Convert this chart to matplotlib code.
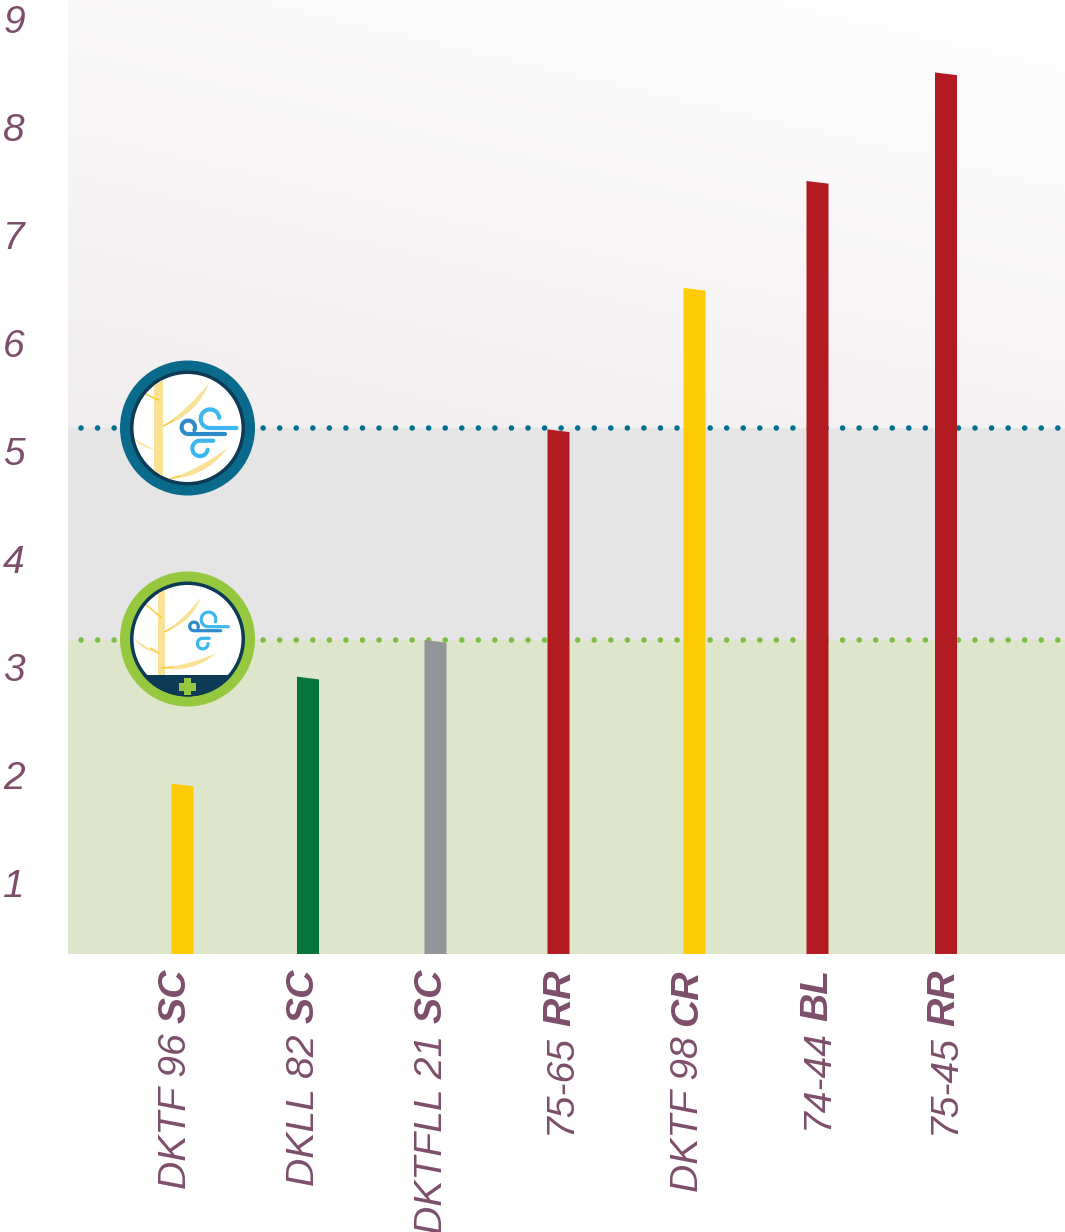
import numpy as np
import matplotlib
matplotlib.use('Agg')
import matplotlib.pyplot as plt
from matplotlib.patches import Circle, Rectangle, PathPatch
from matplotlib.path import Path

plt.rcParams['font.family'] = ['Liberation Sans', 'DejaVu Sans']

names = ['DKTF 96', 'DKLL 82', 'DKTFLL 21', '75-65', 'DKTF 98', '74-44', '75-45']
suffix = ['SC', 'SC', 'SC', 'RR', 'CR', 'BL', 'RR']
values = [1.92, 2.91, 3.25, 5.2, 6.51, 7.5, 8.505]
colors = ['#ffcb05', '#05753c', '#939598', '#b31b23', '#ffcb05', '#b31b23', '#b31b23']
ticks = [1, 2, 3, 4, 5, 6, 7, 8, 9]
upper_limit = 5.21
lower_limit = 3.25

# bars are not evenly spaced in the original, x axis is in pixels
bar_x = [182.5, 308, 435.5, 558.5, 694.5, 817.5, 946]
label_x = [175.5, 303.5, 431.5, 560.5, 687.5, 817.5, 944.5]
label_gap = [-7, -8, -8, -6, -8, -6, -6]
bar_w = 22
slant = 0.025
text_col = '#7d4e6b'
W, H = 1065, 1232

fig = plt.figure(figsize=(W / 100, H / 100), dpi=100)

# main axes, 108 px per unit
y_bottom = (991 - 954) / 108
y_top = 991 / 108
ax = fig.add_axes([68 / W, (H - 954) / H, (W - 68) / W, 954 / H])

# soft gradient in the top zone, darkest at the lower left
gx, gy = np.meshgrid(np.linspace(0, 1, 200), np.linspace(0, 1, 200))
g = np.clip(0.65 * gy + 0.35 * (1 - gx), 0, 1)
c_hi = np.array([1.0, 1.0, 1.0])
c_lo = np.array([0xf1, 0xed, 0xef]) / 255
img = c_hi + (c_lo - c_hi) * g[..., None]
ax.imshow(img, extent=[68, W, upper_limit, y_top], origin='upper', aspect='auto', zorder=0)
ax.set_xlim(68, W)
ax.set_ylim(y_bottom, y_top)

ax.axhspan(lower_limit, upper_limit, color='#e5e5e5', lw=0, zorder=0)
ax.axhspan(y_bottom, lower_limit, color='#dde6cb', lw=0, zorder=0)

dots = (0, (0.01, 2.97))
ax.plot([81, W], [upper_limit, upper_limit], color='#00708f', lw=4, ls=dots,
        dash_capstyle='round', zorder=1)
ax.plot([81, W], [lower_limit, lower_limit], color='#7dbd42', lw=4, ls=dots,
        dash_capstyle='round', zorder=1)

for xc, v, c in zip(bar_x, values, colors):
    ax.fill([xc - bar_w / 2, xc + bar_w / 2, xc + bar_w / 2, xc - bar_w / 2],
            [y_bottom, y_bottom, v - slant, v], color=c, lw=0, zorder=2)

for s in ax.spines.values():
    s.set_visible(False)
ax.set_xticks([])
ax.set_yticks(ticks)
ax.tick_params(axis='y', length=0, pad=0)
ax.set_yticklabels([])
for t in ticks:
    ax.annotate(str(t), xy=(14, t), xycoords=('figure pixels', 'data'), xytext=(0, -3),
                textcoords='offset points', ha='center', va='center',
                fontsize=28, style='italic', color=text_col, annotation_clip=False)

# two part labels: bold part sits on top, regular part hangs below it
for lx, gap, name, suf in zip(label_x, label_gap, names, suffix):
    bold = fig.text(lx / W, (H - 969) / H, suf, rotation=90, ha='center', va='top',
                    fontsize=28.2, style='italic', weight='bold', color=text_col)
    ax.annotate(name, xy=(0.5, 0), xycoords=bold, xytext=(0, gap), textcoords='offset points',
                rotation=90, ha='center', va='top', fontsize=28.2, style='italic',
                color=text_col, annotation_clip=False)

# overlay in pixel coordinates for the two badges
ov = fig.add_axes([0, 0, 1, 1])
ov.set_xlim(0, W)
ov.set_ylim(H, 0)
ov.axis('off')
ov.patch.set_alpha(0)


def leaf(cx, cy, p0, p1, clip, bulge=0.16):
    p0 = np.array(p0, float) + (cx, cy)
    p1 = np.array(p1, float) + (cx, cy)
    d = p1 - p0
    n = np.array([-d[1], d[0]]) * bulge
    m = (p0 + p1) / 2
    verts = [p0, m + n * 1.5, p1, m + n * 0.5, p0]
    codes = [Path.MOVETO, Path.CURVE3, Path.CURVE3, Path.CURVE3, Path.CURVE3]
    pp = PathPatch(Path(verts, codes), fc='#f9e196', ec='none', zorder=3)
    ov.add_patch(pp)
    pp.set_clip_path(clip)


def stem(cx, cy, p0, p1, clip):
    ln, = ov.plot([cx + p0[0], cx + p1[0]], [cy + p0[1], cy + p1[1]], color='#fcc92c', lw=1.0, zorder=3)
    ln.set_clip_path(clip)


def curl(cx, cy, x_start, y_line, xc, yc, r, a0, a1, col, lw):
    # straight run of the wind stroke, then an arc (angles in screen sense, y down)
    a = np.radians(np.linspace(a0, a1, 50))
    xs = np.r_[x_start, xc + r * np.cos(a)]
    ys = np.r_[y_line, yc + r * np.sin(a)]
    ov.plot(cx + xs, cy + ys, color=col, lw=lw, solid_capstyle='round', zorder=5)


def badge(cx, cy, ring, small):
    ov.add_patch(Circle((cx, cy), 67.5, fc=ring, ec='none', zorder=2))
    dark = Circle((cx, cy), 57.5, fc='#0d3a54', ec='none', zorder=2)
    ov.add_patch(dark)
    white = Circle((cx, cy), 54, fc='white', ec='none', zorder=2)
    ov.add_patch(white)
    if small:
        tr = Rectangle((cx - 29.5, cy - 60), 7, 100, fc='#f9e196', ec='none', zorder=3)
        ov.add_patch(tr)
        tr.set_clip_path(white)
        leaf(cx, cy, (-22.5, -7.3), (13.5, -41.7), white)
        leaf(cx, cy, (-26, 29), (29, 14), white)
        leaf(cx, cy, (-53.5, -1), (-29, 14), white)
        stem(cx, cy, (-41, -34), (-26.5, -21.7), white)
        stem(cx, cy, (-26, 29), (-15, 28), white)
        stem(cx, cy, (-37, 9), (-29, 14), white)
        stem(cx, cy, (-22.5, -7.3), (-16, -11), white)
        curl(cx, cy, 40.8, -12.3, 21, -19.6, 7.3, 90, 380, '#3db7ee', 2.3)
        curl(cx, cy, 33.2, -8.3, 6.5, -12.6, 4.3, 90, 380, '#2e8bcb', 2.3)
        curl(cx, cy, 21.8, -0.7, 15.2, 4.6, 5.3, 270, 0, '#3db7ee', 2.3)
        band = Rectangle((cx - 60, cy + 36), 120, 30, fc='#0d3a54', ec='none', zorder=4)
        ov.add_patch(band)
        band.set_clip_path(dark)
        ov.add_patch(Rectangle((cx - 8.5, cy + 44), 17, 7.5, fc='#96c83f', ec='none', zorder=5))
        ov.add_patch(Rectangle((cx - 3.7, cy + 39.3), 7.5, 17, fc='#96c83f', ec='none', zorder=5))
    else:
        tr = Rectangle((cx - 33.5, cy - 60), 9, 120, fc='#f9e196', ec='none', zorder=3)
        ov.add_patch(tr)
        tr.set_clip_path(white)
        leaf(cx, cy, (-24, -2), (22, -46), white)
        leaf(cx, cy, (-18, 51), (40, 20), white)
        leaf(cx, cy, (-54, 10), (-33, 21), white)
        stem(cx, cy, (-42, -34), (-29, -28), white)
        stem(cx, cy, (-18, 51), (-8, 48), white)
        stem(cx, cy, (-24, -2), (-14, -8), white)
        curl(cx, cy, 49, 0, 22.5, -9.3, 9.3, 90, 355, '#3db7ee', 3.0)
        curl(cx, cy, 37.5, 6, 0.8, -0.7, 6.7, 90, 385, '#2e8bcb', 3.0)
        curl(cx, cy, 25.8, 12.7, 12.5, 20.4, 7.7, 270, 10, '#3db7ee', 3.0)


badge(187.5, 428, '#0a6a8c', False)
badge(187.5, 639, '#96c83f', True)

fig.savefig('out.png', dpi=100)
